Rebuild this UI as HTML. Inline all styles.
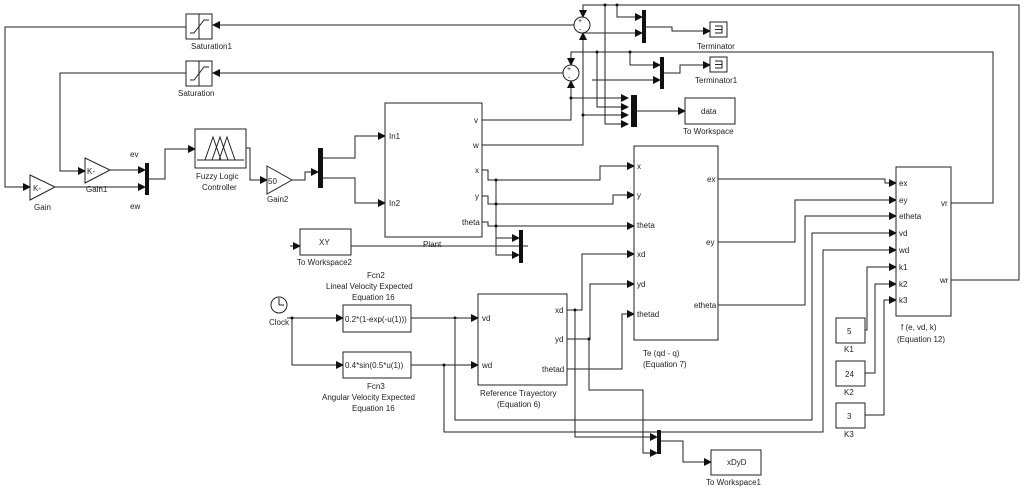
<!DOCTYPE html>
<html><head><meta charset="utf-8"><style>
body{margin:0;background:#fff}
svg{display:block}
text{font-family:"Liberation Sans",sans-serif;font-size:8px;fill:#222}
.w{fill:none;stroke:#222;stroke-width:1}
.b{fill:#fff;stroke:#222;stroke-width:1}
</style></head><body>
<svg width="1024" height="490" viewBox="0 0 1024 490">
<defs><marker id="a" markerWidth="8" markerHeight="8" refX="7" refY="4" orient="auto" markerUnits="userSpaceOnUse"><path d="M0,0L8,4L0,8z" fill="#111"/></marker></defs>
<g class="w">
<!-- feedback -->
<path d="M574,25H213" marker-end="url(#a)"/>
<path d="M186,27H5V187H30" marker-end="url(#a)"/>
<path d="M563,73H213" marker-end="url(#a)"/>
<path d="M186,73H60V171H85" marker-end="url(#a)"/>
<path d="M55,187H145" marker-end="url(#a)"/>
<path d="M110,170H145" marker-end="url(#a)"/>
<path d="M149,179H165V149H195" marker-end="url(#a)"/>
<path d="M246,148H250V180H267" marker-end="url(#a)"/>
<path d="M292,180H305V172H318" marker-end="url(#a)"/>
<path d="M322,158H355V136H385" marker-end="url(#a)"/>
<path d="M322,178H355V203H385" marker-end="url(#a)"/>
<!-- plant outputs -->
<path d="M482,120H571V81" marker-end="url(#a)"/>
<path d="M482,145H583V33" marker-end="url(#a)"/>
<path d="M951,203H993V52H571V65" marker-end="url(#a)"/>
<path d="M951,280H1019V5H583V17" marker-end="url(#a)"/>
<path d="M571,98H628" marker-end="url(#a)"/>
<path d="M583,115H628" marker-end="url(#a)"/>
<path d="M597,52V107H628" marker-end="url(#a)"/>
<path d="M605,5V124H628" marker-end="url(#a)"/>
<path d="M617,5V17H642" marker-end="url(#a)"/>
<path d="M583,33H642" marker-end="url(#a)"/>
<path d="M630,52V65H660" marker-end="url(#a)"/>
<path d="M592,80H660" marker-end="url(#a)"/>
<path d="M646,27H672V31H710" marker-end="url(#a)"/>
<path d="M664,73H680V65H710" marker-end="url(#a)"/>
<path d="M637,111H685" marker-end="url(#a)"/>
<path d="M482,170H488V180H600V166H634" marker-end="url(#a)"/>
<path d="M482,196H488V204H613V195H634" marker-end="url(#a)"/>
<path d="M482,222H488V226H634" marker-end="url(#a)"/>
<path d="M496,180V255H519" marker-end="url(#a)"/>
<path d="M496,238H519" marker-end="url(#a)"/>
<path d="M290,246H528"/>
<path d="M290,246H300" marker-end="url(#a)"/>
<!-- Te outputs -->
<path d="M718,179H885V183H896" marker-end="url(#a)"/>
<path d="M718,242H795V200H896" marker-end="url(#a)"/>
<path d="M718,305H805V216H896" marker-end="url(#a)"/>
<path d="M455,320V420H812V233H896" marker-end="url(#a)"/>
<path d="M444,365V432H823V250H896" marker-end="url(#a)"/>
<path d="M865,330H867V267H896" marker-end="url(#a)"/>
<path d="M865,373H875V284H896" marker-end="url(#a)"/>
<path d="M865,415H884V300H896" marker-end="url(#a)"/>
<!-- clock -->
<path d="M287,318H343" marker-end="url(#a)"/>
<path d="M292,318V365H343" marker-end="url(#a)"/>
<path d="M411,318H478" marker-end="url(#a)"/>
<path d="M411,365H478" marker-end="url(#a)"/>
<path d="M567,310H582V254H634" marker-end="url(#a)"/>
<path d="M575,310V437H657" marker-end="url(#a)"/>
<path d="M567,339H590V284H634" marker-end="url(#a)"/>
<path d="M589,339V390H643V453H657" marker-end="url(#a)"/>
<path d="M567,369H622V314H634" marker-end="url(#a)"/>
<path d="M661,441H683V462H711" marker-end="url(#a)"/>
</g>
<g fill="#111">
<circle cx="496" cy="180" r="1.5"/><circle cx="496" cy="204" r="1.5"/><circle cx="496" cy="226" r="1.5"/>
<circle cx="571" cy="98" r="1.5"/><circle cx="583" cy="115" r="1.5"/><circle cx="597" cy="52" r="1.5"/>
<circle cx="605" cy="5" r="1.5"/><circle cx="617" cy="5" r="1.5"/><circle cx="630" cy="52" r="1.5"/>
<circle cx="455" cy="318" r="1.5"/><circle cx="444" cy="365" r="1.5"/><circle cx="292" cy="318" r="1.5"/>
<circle cx="575" cy="310" r="1.5"/><circle cx="589" cy="339" r="1.5"/>
<!-- muxes -->
<rect x="145" y="163" width="4" height="32"/><rect x="318" y="148" width="5" height="40"/>
<rect x="519" y="230" width="4" height="33"/><rect x="642" y="10" width="4" height="33"/>
<rect x="660" y="57" width="4" height="32"/><rect x="631" y="95" width="6" height="32"/>
<rect x="657" y="430" width="4" height="24"/>
</g>
<!-- blocks -->
<g class="b">
<rect x="186" y="14" width="26" height="25"/><rect x="186" y="61" width="26" height="25"/>
<path d="M30,175L55,187L30,200z"/><path d="M85,158L110,170L85,183z"/><path d="M267,166L292,180L267,194z"/>
<rect x="195" y="129" width="51" height="39"/>
<rect x="385" y="103" width="97" height="134"/>
<rect x="300" y="229" width="51" height="26"/>
<circle cx="582" cy="25" r="8"/><circle cx="571" cy="73" r="8"/>
<rect x="710" y="22" width="17" height="15"/><rect x="710" y="57" width="17" height="15"/>
<rect x="685" y="98" width="50" height="26"/>
<rect x="634" y="146" width="84" height="194"/>
<rect x="896" y="167" width="55" height="149"/>
<rect x="836" y="318" width="29" height="25"/><rect x="836" y="361" width="29" height="25"/><rect x="836" y="403" width="29" height="25"/>
<circle cx="279" cy="305" r="8"/>
<rect x="343" y="305" width="68" height="27"/><rect x="343" y="352" width="68" height="26"/>
<rect x="478" y="294" width="89" height="91"/>
<rect x="711" y="450" width="50" height="25"/>
</g>
<g class="w">
<path d="M199,14V39M190,33H194L204,20H209"/><path d="M199,61V86M190,80H194L204,67H209"/>
<path d="M197,160H244M205,160L213,137L221,160M212,160L220,137L228,160M219,160L227,137L235,160"/>
<path d="M279,305V298M279,305H284"/>
<path d="M715,26H722V33H715M715,29.5H722" /><path d="M715,61H722V68H715M715,64.5H722"/>
</g>
<text x="191" y="49">Saturation1</text><text x="178" y="96">Saturation</text>
<text x="33" y="191">K-</text><text x="87" y="174">K-</text><text x="268" y="184">50</text>
<text x="34" y="210">Gain</text><text x="86" y="192">Gain1</text><text x="267" y="202">Gain2</text>
<text x="130" y="157">ev</text><text x="130" y="209">ew</text>
<text x="196" y="179">Fuzzy Logic</text><text x="202" y="190">Controller</text>
<text x="389" y="139">In1</text><text x="389" y="206">In2</text>
<text x="474" y="123">v</text><text x="473" y="148">w</text><text x="475" y="173">x</text><text x="475" y="199">y</text><text x="462" y="225">theta</text>
<text x="423" y="247">Plant</text>
<text x="319" y="245">XY</text><text x="297" y="265">To Workspace2</text>
<text x="578" y="23" style="font-size:7px">+</text><text x="579" y="32" style="font-size:7px">-</text>
<text x="567" y="71" style="font-size:7px">+</text><text x="568" y="80" style="font-size:7px">-</text>
<text x="697" y="49">Terminator</text><text x="695" y="83">Terminator1</text>
<text x="701" y="114">data</text><text x="683" y="134">To Workspace</text>
<text x="637" y="169">x</text><text x="637" y="198">y</text><text x="637" y="228">theta</text><text x="637" y="257">xd</text><text x="637" y="287">yd</text><text x="637" y="317">thetad</text>
<text x="707" y="182">ex</text><text x="706" y="245">ey</text><text x="694" y="308">etheta</text>
<text x="643" y="356">Te (qd - q)</text><text x="643" y="367">(Equation 7)</text>
<text x="899" y="186">ex</text><text x="899" y="203">ey</text><text x="899" y="219">etheta</text><text x="899" y="236">vd</text><text x="899" y="253">wd</text><text x="899" y="270">k1</text><text x="899" y="287">k2</text><text x="899" y="303">k3</text>
<text x="941" y="206">vr</text><text x="940" y="283">wr</text>
<text x="901" y="330">f (e, vd, k)</text><text x="897" y="342">(Equation 12)</text>
<text x="847" y="334">5</text><text x="845" y="377">24</text><text x="847" y="419">3</text>
<text x="844" y="352">K1</text><text x="844" y="395">K2</text><text x="844" y="437">K3</text>
<text x="269" y="325">Clock</text>
<text x="367" y="278">Fcn2</text><text x="326" y="289">Lineal Velocity Expected</text><text x="352" y="300">Equation 16</text>
<text x="345" y="322">0.2*(1-exp(-u(1)))</text><text x="345" y="368">0.4*sin(0.5*u(1))</text>
<text x="367" y="389">Fcn3</text><text x="322" y="400">Angular Velocity Expected</text><text x="352" y="411">Equation 16</text>
<text x="482" y="321">vd</text><text x="482" y="368">wd</text>
<text x="555" y="313">xd</text><text x="555" y="342">yd</text><text x="542" y="372">thetad</text>
<text x="480" y="396">Reference Trayectory</text><text x="497" y="407">(Equation 6)</text>
<text x="727" y="465">xDyD</text><text x="706" y="485">To Workspace1</text>
</svg>
</body></html>
